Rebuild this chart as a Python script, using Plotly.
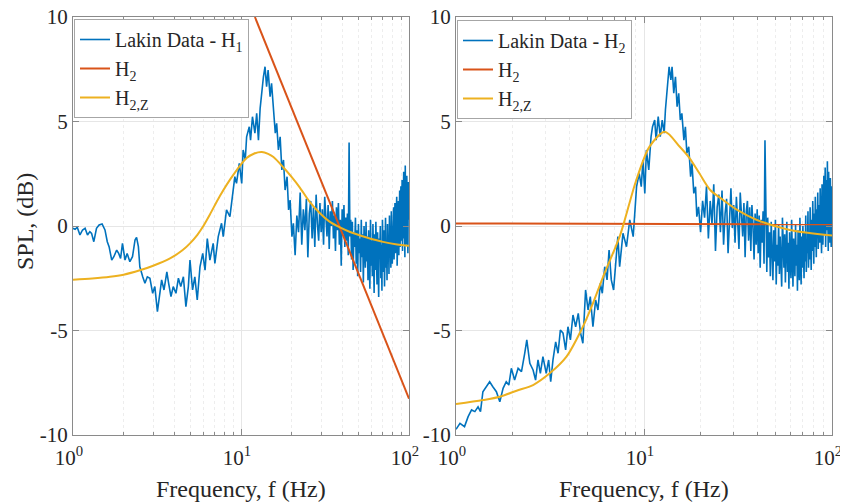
import plotly.graph_objects as go

# ---------------- data ----------------
# Left panel: measured data H1
left_f_low = [1.00,1.03,1.06,1.10,1.14,1.18,1.22,1.26,1.29,1.33,1.38,1.43,1.49,1.55,1.60,1.64,1.70,1.75,1.82,1.87,
              1.92,1.97,2.04,2.10,2.18,2.26,2.34,2.39,2.45,2.50,2.60,2.68,2.77,2.87,2.98,3.07,3.18,3.26,3.37,3.48,
              3.62,3.71,3.83,3.95,4.10,4.24,4.38,4.54,4.70,4.86,4.97,5.15,5.31,5.49,5.70,5.92,6.11,6.30,6.53,6.83,
              6.99,7.32,7.66,7.84,8.20,8.59,8.98,9.19,9.40,9.77,10.1,10.3,10.6,10.8,11.2,11.4,11.7,12.1,12.4,12.7,
              13.0,13.3,13.6,13.9,14.2,14.5,14.9,15.2,15.6,16.0,16.3,16.7,17.1,17.5,17.9,18.3,18.8,19.2,19.6,20.1,20.5]
left_v_low = [-0.11,-0.16,-0.06,-0.43,-0.19,-0.11,-0.43,-0.27,-0.35,-0.75,-0.11,0.05,0.10,-0.19,-0.75,-0.99,-1.63,-1.47,-1.15,-1.31,
              -1.55,-0.83,-1.63,-1.31,-1.71,-1.47,-0.67,-0.54,-0.99,-1.95,-2.43,-2.74,-2.43,-2.50,-3.22,-2.90,-4.10,-3.38,-2.58,-3.06,
              -2.19,-2.74,-3.38,-2.90,-3.22,-2.50,-2.90,-2.43,-3.86,-2.90,-1.63,-3.06,-2.43,-3.54,-1.95,-1.31,-2.11,-0.60,-1.63,-0.83,
              -1.79,-0.51,0.13,-0.51,0.77,0.45,1.72,2.36,2.04,3.00,2.04,3.64,3.16,4.27,4.75,4.11,5.23,4.44,5.39,4.11,
              5.63,6.51,7.14,7.62,6.67,7.46,6.19,6.83,5.55,4.44,4.91,3.64,4.27,2.68,3.16,1.72,2.36,0.77,1.24,-0.51,0.13]

# High-frequency part (21 Hz .. 100 Hz, every 0.5 Hz)
high_f = [21.0,21.5,22.0,22.5,23.0,23.5,24.0,24.5,25.0,25.5,26.0,26.5,27.0,27.5,28.0,28.5,29.0,29.5,30.0,30.5,
          31.0,31.5,32.0,32.5,33.0,33.5,34.0,34.5,35.0,35.5,36.0,36.5,37.0,37.5,38.0,38.5,39.0,39.5,40.0,40.5,
          41.0,41.5,42.0,42.5,43.0,43.5,44.0,44.5,45.0,45.5,46.0,46.5,47.0,47.5,48.0,48.5,49.0,49.5,50.0,50.5,
          51.0,51.5,52.0,52.5,53.0,53.5,54.0,54.5,55.0,55.5,56.0,56.5,57.0,57.5,58.0,58.5,59.0,59.5,60.0,60.5,
          61.0,61.5,62.0,62.5,63.0,63.5,64.0,64.5,65.0,65.5,66.0,66.5,67.0,67.5,68.0,68.5,69.0,69.5,70.0,70.5,
          71.0,71.5,72.0,72.5,73.0,73.5,74.0,74.5,75.0,75.5,76.0,76.5,77.0,77.5,78.0,78.5,79.0,79.5,80.0,80.5,
          81.0,81.5,82.0,82.5,83.0,83.5,84.0,84.5,85.0,85.5,86.0,86.5,87.0,87.5,88.0,88.5,89.0,89.5,90.0,90.5,
          91.0,91.5,92.0,92.5,93.0,93.5,94.0,94.5,95.0,95.5,96.0,96.5,97.0,97.5,98.0,98.5,99.0,99.5,100.0]
left_v_high = [-1.4,0.5,-0.3,1.6,-0.9,0.8,-0.2,1.3,-1.5,0.6,
               1.2,-0.6,0.9,-1.0,1.5,0.1,-0.7,1.1,-0.3,0.8,
               -0.9,1.4,0.2,-0.5,1.0,-1.1,0.7,0.0,1.2,-0.6,
               0.5,-1.2,0.9,-0.2,1.1,-0.9,0.3,-1.9,0.8,-0.4,
               1.0,-1.0,0.4,-0.7,0.6,-1.4,4.0,-0.5,0.3,-1.6,
               0.2,-2.1,-0.3,-1.0,0.4,-1.8,-0.2,-2.4,0.1,-1.3,
               -0.6,-2.2,0.3,-1.5,-0.4,-2.7,0.0,-1.1,-2.0,0.2,
               -1.7,-0.5,-2.6,-0.2,-1.2,-3.0,0.3,-1.9,-0.7,-2.4,
               0.1,-1.6,-3.2,-0.4,-2.1,0.2,-1.0,-2.8,-0.3,-1.7,
               -3.4,-0.6,-1.3,0.0,-2.5,-0.9,-3.1,0.3,-1.5,-2.2,
               -0.2,-2.9,-1.1,0.4,-2.0,-0.7,-2.6,0.1,-1.4,-0.5,
               -2.3,0.5,-1.2,-0.3,-2.0,0.7,-0.9,-1.8,0.2,-1.1,
               0.9,-1.6,-0.2,1.1,-1.3,0.4,-0.8,1.4,-1.9,0.3,
               -0.5,1.2,-1.4,0.6,1.7,-1.0,0.2,1.9,-0.7,0.8,
               2.2,-1.2,1.0,0.1,2.6,-0.6,1.5,-1.5,2.9,0.4,
               1.8,-0.9,2.4,0.6,1.2,-1.3,2.1,0.3,1.6]

# Right panel: measured data H2
right_f_low = [1.00,1.05,1.11,1.16,1.21,1.26,1.31,1.35,1.39,1.45,1.51,1.57,1.64,1.71,1.78,1.85,1.91,1.97,2.05,2.14,
               2.23,2.32,2.38,2.47,2.57,2.65,2.73,2.81,2.90,3.02,3.11,3.19,3.28,3.39,3.49,3.59,3.71,3.83,3.94,4.06,
               4.19,4.33,4.47,4.60,4.73,4.89,5.04,5.18,5.35,5.53,5.69,5.86,6.00,6.18,6.36,6.52,6.70,6.89,7.07,7.26,
               7.42,7.73,8.07,8.40,8.76,8.94,9.13,9.43,9.67,9.87,10.1,10.3,10.6,10.9,11.1,11.4,11.6,11.9,12.2,12.5,
               12.8,13.0,13.3,13.6,13.9,14.1,14.4,14.7,15.0,15.3,15.6,15.9,16.3,16.6,16.9,17.3,17.7,18.0,18.4,18.8,
               19.1,19.5,20.0,20.5]
right_v_low = [-9.73,-9.44,-9.60,-9.12,-8.80,-8.88,-8.65,-8.88,-7.93,-7.69,-7.45,-7.69,-7.93,-8.41,-7.77,-7.45,-7.61,-6.81,-7.37,-6.81,
               -6.97,-6.09,-5.45,-6.57,-6.89,-7.37,-6.41,-7.05,-6.25,-7.05,-6.41,-7.45,-6.41,-5.54,-6.09,-4.98,-5.13,-5.93,-4.82,-5.45,
               -4.26,-4.82,-4.18,-5.13,-5.61,-3.06,-4.02,-3.38,-4.82,-3.54,-4.02,-2.74,-3.22,-1.95,-2.58,-1.15,-2.58,-3.06,-1.63,-0.51,
               -1.95,-0.35,-0.99,0.29,-0.51,0.77,1.88,2.52,1.88,3.16,1.56,3.64,2.68,4.27,4.75,5.07,4.11,5.23,4.27,5.07,
               4.44,5.55,6.67,7.62,6.99,7.62,6.35,7.14,5.71,6.35,5.07,5.39,4.11,4.75,3.48,3.79,2.36,3.00,1.56,1.88,
               0.45,0.92,-0.30,1.20]
right_v_high = [0.4,1.9,-0.6,1.2,0.1,2.0,-1.2,0.9,1.5,-0.3,
                1.7,-0.9,0.6,1.3,-1.3,0.8,1.8,-0.1,1.0,-0.8,
                1.4,0.2,-1.1,1.6,0.4,-0.5,1.1,-1.5,0.7,1.2,
                -0.7,0.9,-1.2,1.0,0.0,-1.6,0.6,-0.9,0.8,-1.3,
                0.5,-2.0,0.3,-0.8,0.7,-1.8,4.1,-0.6,-2.2,0.4,
                -1.5,-0.3,-2.4,0.2,-1.1,-2.6,-0.2,-1.7,0.3,-2.8,
                -0.9,-1.9,0.1,-2.3,-0.5,-1.4,-2.9,0.4,-1.2,-2.0,
                -0.4,-2.7,-1.0,0.2,-2.2,-0.8,-3.0,-0.3,-1.6,-2.5,
                0.3,-1.8,-2.9,-0.6,-1.3,-2.4,0.1,-1.9,-0.9,-3.1,
                -0.2,-1.5,-2.6,0.4,-1.1,-2.8,-0.5,-2.0,0.0,-1.4,
                -2.5,-0.3,-1.7,0.5,-2.2,-0.8,-1.3,0.7,-2.0,-0.4,
                -1.6,0.9,-0.7,-2.1,0.3,-1.2,1.2,-0.5,-1.8,0.6,
                -1.0,1.4,-0.2,-1.5,0.8,-0.6,1.6,-1.1,0.2,1.0,
                -0.8,1.8,-0.3,0.5,-1.3,2.0,0.1,-0.9,1.3,2.4,
                -0.4,1.1,2.8,-1.0,0.7,2.2,-0.2,3.1,0.9,-1.2,
                2.6,0.3,1.7,-0.8,2.3,0.9,-1.0,1.9,0.6]

# Model curves
left_h2_f = [12.1, 100.0]
left_h2_v = [10.0, -8.26]
left_h2z_f = [1.0, 1.3, 1.66, 2.0, 2.5, 3.0, 3.78, 4.5, 4.97, 5.5, 5.97, 6.53, 7.5, 9.0, 10.8, 12.0, 13.3,
              14.5, 15.6, 17.9, 20.0, 22.4, 25.5, 29.5, 33.5, 38.8, 45.0, 56.0, 70.0, 85.0, 100.0]
left_h2z_v = [-2.57, -2.51, -2.43, -2.33, -2.12, -1.90, -1.55, -1.15, -0.83, -0.42, 0.00, 0.55, 1.45, 2.45, 3.25, 3.47, 3.54,
              3.45, 3.30, 2.80, 2.35, 1.84, 1.18, 0.61, 0.22, -0.07, -0.30, -0.55, -0.76, -0.88, -0.95]

right_h2_f = [1.0, 100.0]
right_h2_v = [0.12, 0.08]
right_h2z_f = [1.0, 1.39, 1.71, 2.10, 2.57, 3.15, 3.87, 4.73, 5.35, 6.06, 6.83, 7.42, 7.9, 9.1, 10.7, 12.9,
               15.5, 17.5, 19.7, 22.5, 26.3, 31.3, 39.6, 59.6, 100.0]
right_h2z_v = [-8.52, -8.33, -8.17, -7.88, -7.61, -7.05, -6.25, -4.82, -3.70, -2.43, -1.31, -0.51, 0.29, 2.20, 3.80, 4.51,
               3.79, 3.24, 2.52, 1.72, 1.25, 0.77, 0.30, -0.19, -0.46]

x_tickvals = [1, 10, 100]
x_ticktext = ["10<sup>0</sup>", "10<sup>1</sup>", "10<sup>2</sup>"]
y_tickvals = [-10, -5, 0, 5, 10]
y_ticktext = ["-10", "-5", "0", "5", "10"]

# ---------------- styling ----------------
W, H = 848, 504
OFF = 8  # page body margin of the html document
BLUE, ORANGE, YELLOW = "#0072BD", "#D95319", "#EDB120"
FONT = "Liberation Serif, Times New Roman, serif"
TXT = "#262626"

def px_x(p):
    return (p - OFF) / W

def px_y(p):
    return 1 - (p - OFF) / H

fig = go.Figure()

def add_panel(fx_low, v_low, fx_high, v_high, h2f, h2v, h2zf, h2zv, name1, xa, ya, leg):
    fig.add_trace(go.Scatter(x=fx_low + fx_high, y=v_low + v_high, mode="lines",
                             line=dict(color=BLUE, width=1.6), name=name1,
                             xaxis=xa, yaxis=ya, legend=leg))
    fig.add_trace(go.Scatter(x=h2f, y=h2v, mode="lines", line=dict(color=ORANGE, width=2),
                             name="H<sub>2</sub>", xaxis=xa, yaxis=ya, legend=leg))
    fig.add_trace(go.Scatter(x=h2zf, y=h2zv, mode="lines", line=dict(color=YELLOW, width=2, shape="spline", smoothing=0.8),
                             name="H<sub>2,Z</sub>", xaxis=xa, yaxis=ya, legend=leg))

add_panel(left_f_low, left_v_low, high_f, left_v_high, left_h2_f, left_h2_v, left_h2z_f, left_h2z_v,
          "Lakin Data - H<sub>1</sub>", "x", "y", "legend")
add_panel(right_f_low, right_v_low, high_f, right_v_high, right_h2_f, right_h2_v, right_h2z_f, right_h2z_v,
          "Lakin Data - H<sub>2</sub>", "x2", "y2", "legend2")

minor_vals = [2, 3, 4, 5, 6, 7, 8, 9, 20, 30, 40, 50, 60, 70, 80, 90]
axis_line = "#8a8a8a"

def xaxis(dom, anchor):
    return dict(domain=dom, anchor=anchor, type="log", range=[0, 2],
                tickmode="array", tickvals=x_tickvals, ticktext=x_ticktext,
                ticks="inside", ticklen=6, tickcolor=axis_line, mirror="ticks",
                showline=True, linecolor=axis_line, linewidth=1,
                showgrid=True, gridcolor="#e6e6e6", gridwidth=1, zeroline=False,
                tickfont=dict(family=FONT, size=21, color=TXT),
                ticklabelstandoff=4, ticklabelshift=-4, ticklabeloverflow="allow",
                minor=dict(tickmode="array", tickvals=minor_vals, ticks="inside", ticklen=3,
                           tickcolor=axis_line, showgrid=True, gridcolor="#ededed", griddash="dot"),
                automargin=False)

def yaxis(dom, anchor):
    return dict(domain=dom, anchor=anchor, range=[-10, 10],
                tickmode="array", tickvals=y_tickvals, ticktext=y_ticktext,
                ticks="inside", ticklen=6, tickcolor=axis_line, mirror="ticks",
                showline=True, linecolor=axis_line, linewidth=1,
                showgrid=True, gridcolor="#e6e6e6", zeroline=False,
                tickfont=dict(family=FONT, size=21, color=TXT),
                ticklabeloverflow="allow",
                automargin=False)

ydom = [px_y(435), px_y(17)]
fig.update_layout(
    width=W, height=H, autosize=False,
    margin=dict(l=0, r=0, t=0, b=0),
    paper_bgcolor="white", plot_bgcolor="white",
    font=dict(family=FONT, size=20, color=TXT),
    xaxis=xaxis([px_x(73), px_x(409)], "y"),
    yaxis=yaxis(ydom, "x"),
    xaxis2=xaxis([px_x(456), px_x(832)], "y2"),
    yaxis2=yaxis(ydom, "x2"),
    legend=dict(x=px_x(74), y=px_y(19), xanchor="left", yanchor="top",
                bordercolor="#a6a6a6", borderwidth=1, bgcolor="white",
                font=dict(family=FONT, size=20, color=TXT)),
    legend2=dict(x=px_x(457), y=px_y(20), xanchor="left", yanchor="top",
                 bordercolor="#a6a6a6", borderwidth=1, bgcolor="white",
                 font=dict(family=FONT, size=20, color=TXT)),
    showlegend=True,
    annotations=[
        dict(text="SPL, (dB)", x=px_x(25), y=px_y(222), xref="paper", yref="paper",
             textangle=-90, showarrow=False, xanchor="center", yanchor="middle",
             font=dict(family=FONT, size=24, color=TXT)),
        dict(text="Frequency, f (Hz)", x=px_x(241), y=px_y(489), xref="paper", yref="paper",
             showarrow=False, xanchor="center", yanchor="middle",
             font=dict(family=FONT, size=24, color=TXT)),
        dict(text="Frequency, f (Hz)", x=px_x(644), y=px_y(489), xref="paper", yref="paper",
             showarrow=False, xanchor="center", yanchor="middle",
             font=dict(family=FONT, size=24, color=TXT)),
    ],
)

fig.write_html("out.html")
